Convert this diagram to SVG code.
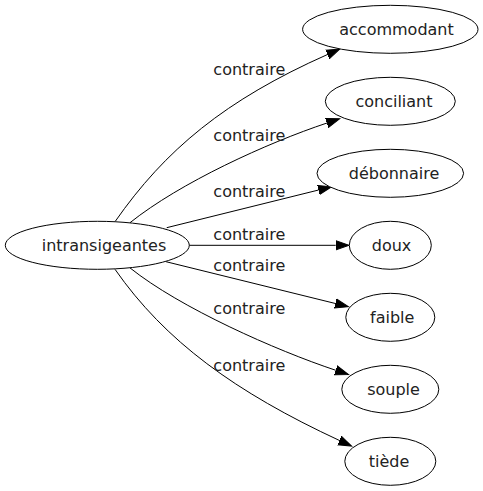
<svg xmlns="http://www.w3.org/2000/svg" width="483" height="491" viewBox="0 0 483 491">
<defs>
<marker id="arr" markerUnits="userSpaceOnUse" markerWidth="15" markerHeight="12" refX="0" refY="0" viewBox="0 -6 15 12" orient="auto">
<path d="M0,-4.67 L13.33,0 L0,4.67 Z" fill="#000" stroke="#000" stroke-width="1"/>
</marker>
<style>
.n ellipse{fill:#fff;stroke:#000;stroke-width:1}
.n text,.lbl{font-family:"DejaVu Sans",sans-serif;font-size:16px;fill:#222;text-anchor:middle}
.e{fill:none;stroke:#000;stroke-width:1;marker-end:url(#arr)}
</style>
</defs>
<rect width="483" height="491" fill="#fff"/>
<g id="edges">
<path class="e" d="M115,221.7 C165,150 225,100 327.5,54.5"/>
<path class="e" d="M130,222.7 C180,182.7 267,143 327,123"/>
<path class="e" d="M166.7,227.7 L318.6,190"/>
<path class="e" d="M189,245.3 L335.7,245.3"/>
<path class="e" d="M166,261.7 L335.4,303.5"/>
<path class="e" d="M130,267.9 C180,307.9 275.8,350.3 335.8,370.3"/>
<path class="e" d="M115,269.3 C165,341 235,392 339.5,440.5"/>
<text class="lbl" x="249.3" y="75">contraire</text>
<text class="lbl" x="249.3" y="140.5">contraire</text>
<text class="lbl" x="249.3" y="196.5">contraire</text>
<text class="lbl" x="249.3" y="240.3">contraire</text>
<text class="lbl" x="249.3" y="270.8">contraire</text>
<text class="lbl" x="249.3" y="314">contraire</text>
<text class="lbl" x="249.3" y="371">contraire</text>
</g>
<g id="intransigeantes" class="n"><ellipse cx="97.3" cy="245.3" rx="92" ry="24"/><text x="104" y="250.8">intransigeantes</text></g>
<g id="accommodant" class="n"><ellipse cx="390.3" cy="29.3" rx="87.7" ry="24"/><text x="396.5" y="34.8">accommodant</text></g>
<g id="conciliant" class="n"><ellipse cx="390.3" cy="101.3" rx="65" ry="24"/><text x="394" y="106.8">conciliant</text></g>
<g id="debonnaire" class="n"><ellipse cx="390.3" cy="173.3" rx="73.3" ry="24"/><text x="394" y="178.8">débonnaire</text></g>
<g id="doux" class="n"><ellipse cx="390.3" cy="245.3" rx="41" ry="24"/><text x="391.5" y="250.8">doux</text></g>
<g id="faible" class="n"><ellipse cx="390.3" cy="317.3" rx="44.5" ry="24"/><text x="392.2" y="322.8">faible</text></g>
<g id="souple" class="n"><ellipse cx="390.3" cy="389.3" rx="48.5" ry="24"/><text x="393.5" y="394.8">souple</text></g>
<g id="tiede" class="n"><ellipse cx="390.3" cy="461.3" rx="45.5" ry="24"/><text x="389" y="466.8">tiède</text></g>
</svg>
